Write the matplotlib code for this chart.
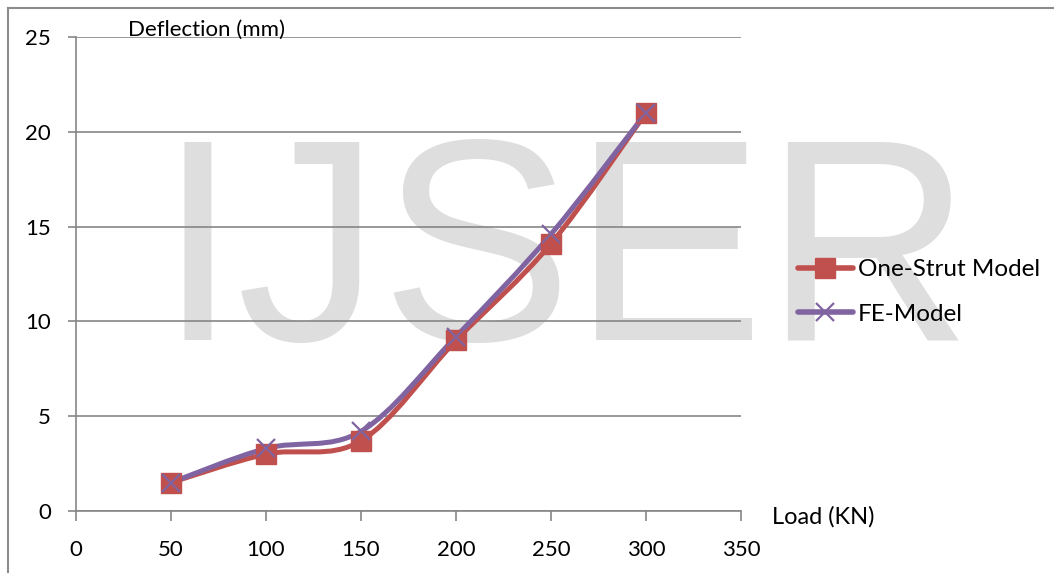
import matplotlib
matplotlib.use("Agg")
import matplotlib.pyplot as plt
from matplotlib.path import Path
from matplotlib.patches import PathPatch
from matplotlib.lines import Line2D

# datos
load = [50, 100, 150, 200, 250, 300]
one_strut = [1.5, 3.0, 3.7, 9.0, 14.1, 21.0]
fe_model = [1.5, 3.3, 4.2, 9.2, 14.6, 21.0]

x_ticks = [0, 50, 100, 150, 200, 250, 300, 350]
y_ticks = [0, 5, 10, 15, 20, 25]

rojo = "#C0504D"
morado = "#8064A2"
gris = "#868686"

plt.rcParams["font.family"] = ["Lato", "DejaVu Sans"]


def curva_suave(xs, ys):
    # linea suavizada tipo Excel (bezier cubica entre puntos)
    pts = list(zip(xs, ys))
    verts = [pts[0]]
    codes = [Path.MOVETO]
    n = len(pts)
    for i in range(n - 1):
        p0 = pts[max(i - 1, 0)]
        p1 = pts[i]
        p2 = pts[i + 1]
        p3 = pts[min(i + 2, n - 1)]
        c1 = (p1[0] + (p2[0] - p0[0]) / 6, p1[1] + (p2[1] - p0[1]) / 6)
        c2 = (p2[0] - (p3[0] - p1[0]) / 6, p2[1] - (p3[1] - p1[1]) / 6)
        verts += [c1, c2, p2]
        codes += [Path.CURVE4] * 3
    return Path(verts, codes)


fig = plt.figure(figsize=(10.54, 5.73), dpi=100)
W, H = 1054, 573
ax = fig.add_axes([76 / W, 1 - 511 / H, (741 - 76) / W, (511 - 37) / H])
ax.set_facecolor("none")

# marca de agua
fig.text(565 / W, 1 - 340 / H, "IJSER", fontsize=207, family="Liberation Sans",
         color="#dedede", ha="center", va="baseline", zorder=-1)

ax.add_patch(PathPatch(curva_suave(load, one_strut), fill=False, edgecolor=rojo,
                       linewidth=3.6, capstyle="round", joinstyle="round", zorder=3))
ax.add_patch(PathPatch(curva_suave(load, fe_model), fill=False, edgecolor=morado,
                       linewidth=3.6, capstyle="round", joinstyle="round", zorder=4))
ax.plot(load, one_strut, linestyle="none", marker="s", markersize=14,
        color=rojo, markeredgecolor=rojo, zorder=5)
ax.plot(load, fe_model, linestyle="none", marker="x", markersize=13,
        markeredgewidth=1.6, color=morado, zorder=6)

ax.set_xlim(0, 350)
ax.set_ylim(0, 25)
ax.set_xticks(x_ticks)
ax.set_yticks(y_ticks)
ax.yaxis.grid(True, color=gris, linewidth=1.2)
ax.set_axisbelow(True)
for s in ["top", "right"]:
    ax.spines[s].set_visible(False)
for s in ["left", "bottom"]:
    ax.spines[s].set_color(gris)
    ax.spines[s].set_linewidth(1.2)
ax.tick_params(axis="x", direction="out", length=7, width=1.2, color=gris,
               labelsize=16, pad=14)
ax.tick_params(axis="y", direction="out", length=6, width=1.2, color=gris,
               labelsize=16, pad=12)

fig.text(128 / W, 1 - 30 / H, "Deflection (mm)", fontsize=16, va="center", ha="left")
fig.text(772 / W, 1 - 517 / H, "Load (KN)", fontsize=17, va="center", ha="left")

h1 = Line2D([], [], color=rojo, linewidth=4, marker="s", markersize=14,
            solid_capstyle="round")
h2 = Line2D([], [], color=morado, linewidth=4, marker="x", markersize=13,
            markeredgewidth=1.6, solid_capstyle="round")
fig.legend([h1, h2], ["One-Strut Model", "FE-Model"], loc="center left",
           bbox_to_anchor=(798 / W, 1 - 292 / H), frameon=False, fontsize=17.5,
           handlelength=2.25, handletextpad=0.2, labelspacing=0.95,
           borderpad=0, borderaxespad=0)

# borde exterior
fig.add_artist(Line2D([7.5 / W, 7.5 / W], [0, 1 - 7.5 / H], color="#8c8c8c",
                      linewidth=1.5, transform=fig.transFigure))
fig.add_artist(Line2D([7.5 / W, 1], [1 - 7.5 / H, 1 - 7.5 / H], color="#8c8c8c",
                      linewidth=1.5, transform=fig.transFigure))

fig.savefig("out.png", dpi=100)
